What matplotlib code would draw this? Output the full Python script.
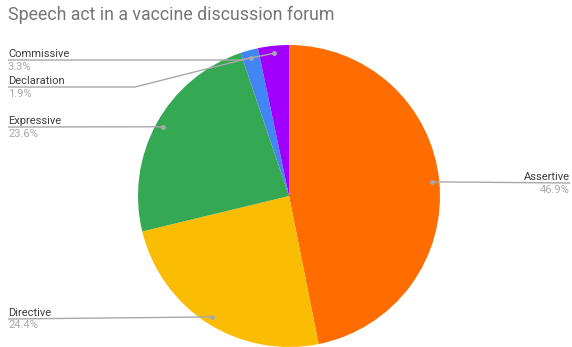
import numpy as np
import matplotlib
matplotlib.use('Agg')
import matplotlib.pyplot as plt

categories = ['Assertive', 'Directive', 'Expressive', 'Declaration', 'Commissive']
values = [46.9, 24.4, 23.6, 1.9, 3.3]
colors = ['#FF6D00', '#FBBC04', '#34A853', '#4285F4', '#A100FF']

W, H = 572, 347
fig = plt.figure(figsize=(W / 100, H / 100), dpi=100)
ax = fig.add_axes([0, 0, 1, 1])

# pie in pixel-like coordinates (y up)
cx, cy, r = 289, H - 196, 151
wedges, _ = ax.pie(values, colors=colors, startangle=90, counterclock=False,
                   center=(cx, cy), radius=r,
                   wedgeprops=dict(linewidth=0))
ax.set_xlim(0, W)
ax.set_ylim(0, H)
ax.axis('off')

# label layout: (side, line y in pixels from top, elbow x or None)
layout = {
    'Commissive': ('left', 60, 240),
    'Declaration': ('left', 87, 135),
    'Expressive': ('left', 127, None),
    'Assertive': ('right', 183, None),
    'Directive': ('left', 319, None),
}

line_col = '#a8a8a8'
for w, name, v in zip(wedges, categories, values):
    ang = np.deg2rad((w.theta1 + w.theta2) / 2)
    dx = cx + 0.95 * r * np.cos(ang)
    dy = cy + 0.95 * r * np.sin(ang)
    side, ly, elbow = layout[name]
    ly = H - ly
    if side == 'left':
        xs = [8, elbow, dx] if elbow else [8, dx]
        ys = [ly, ly, dy] if elbow else [ly, dy]
        tx, ha = 8, 'left'
    else:
        xs = [570, dx]
        ys = [ly, dy]
        tx, ha = 570, 'right'
    ax.plot(xs, ys, color=line_col, lw=1, solid_capstyle='butt')
    ax.plot(dx, dy, 'o', color=line_col, ms=2.5)
    ax.text(tx, ly + 1.5, name, ha=ha, va='bottom', fontsize=8,
            color='#3c3c3c', family='Roboto')
    ax.text(tx, ly - 1.5, f'{v}%', ha=ha, va='top', fontsize=8,
            color='#a8a8a8', family='Roboto')

fig.text(8 / W, 1 - 15 / H, 'Speech act in a vaccine discussion forum',
         ha='left', va='center', fontsize=12.8, color='#757575', family='Roboto')

fig.savefig('out.png', dpi=100)
